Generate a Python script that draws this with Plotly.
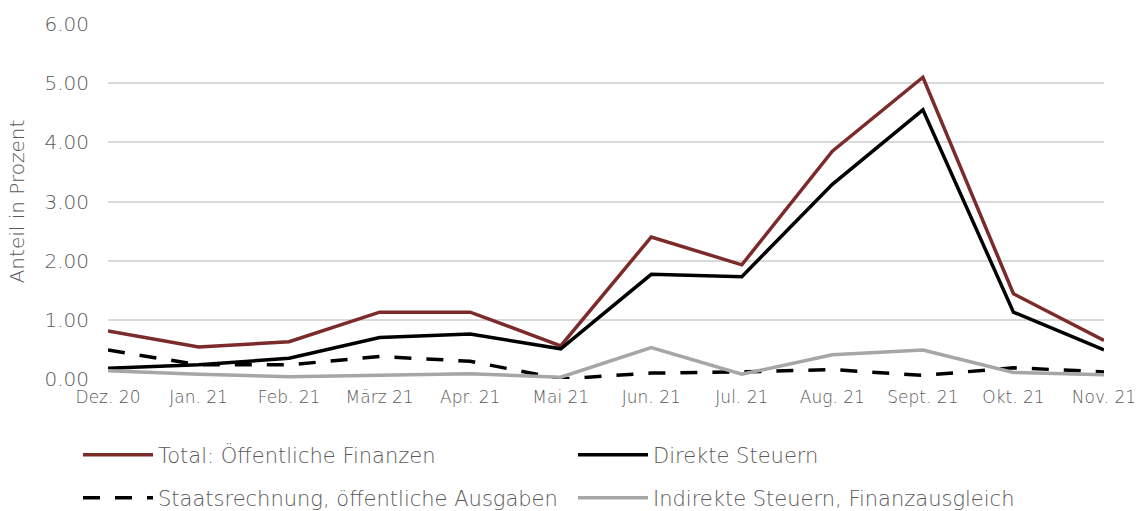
import plotly.graph_objects as go

months = ["Dez. 20", "Jan. 21", "Feb. 21", "März 21", "Apr. 21", "Mai 21",
          "Jun. 21", "Jul. 21", "Aug. 21", "Sept. 21", "Okt. 21", "Nov. 21"]
total = [0.81, 0.54, 0.63, 1.13, 1.13, 0.56, 2.40, 1.93, 3.85, 5.10, 1.44, 0.65]
direkte = [0.18, 0.24, 0.35, 0.70, 0.76, 0.51, 1.77, 1.73, 3.29, 4.55, 1.13, 0.49]
staat = [0.49, 0.24, 0.24, 0.38, 0.30, 0.00, 0.10, 0.12, 0.16, 0.06, 0.19, 0.12]
indirekte = [0.14, 0.08, 0.04, 0.07, 0.09, 0.03, 0.53, 0.08, 0.41, 0.49, 0.11, 0.07]

names = ["Total: Öffentliche Finanzen", "Direkte Steuern",
         "Staatsrechnung, öffentliche Ausgaben", "Indirekte Steuern, Finanzausgleich"]
series = [total, direkte, staat, indirekte]
colors = ["#7B2B29", "#000000", "#000000", "#A6A6A6"]
dashes = ["solid", "solid", "17px,15px", "solid"]
legends = ["legend", "legend", "legend2", "legend2"]

FONT = "DejaVu Sans"
W = 200
TXT = "#595959"

fig = go.Figure()
for n, s, c, d, lg in zip(names, series, colors, dashes, legends):
    fig.add_trace(go.Scatter(x=months, y=s, mode="lines", name=n,
                             line=dict(color=c, width=3.5, dash=d),
                             legend=lg))

legend_common = dict(orientation="h", xref="container", yref="container",
                     xanchor="left", yanchor="middle",
                     font=dict(family=FONT, size=21, color=TXT, weight=W),
                     itemwidth=70, entrywidth=410, entrywidthmode="pixels",
                     bgcolor="rgba(0,0,0,0)", itemclick=False)

fig.update_layout(
    width=1137, height=511,
    margin=dict(l=108, r=33, t=24, b=132, autoexpand=False),
    paper_bgcolor="white", plot_bgcolor="white",
    font=dict(family=FONT, color=TXT, weight=W),
    showlegend=True,
    legend=dict(**legend_common, x=78/1137, y=1 - 455/511),
    legend2=dict(**legend_common, x=78/1137, y=1 - 498/511),
    xaxis=dict(type="category", range=[0, 11], showgrid=False, zeroline=False,
               showline=False, ticks="", automargin=False, ticklabelstandoff=6,
               tickfont=dict(family=FONT, size=17, color=TXT, weight=W)),
    yaxis=dict(range=[0, 6], dtick=1, tickformat=".2f", showgrid=True,
               gridcolor="#D9D9D9", gridwidth=2, zeroline=False, showline=False,
               ticks="", automargin=False, ticklabelstandoff=18,
               tickfont=dict(family=FONT, size=20, color=TXT, weight=W),
               title=dict(text="Anteil in Prozent",
                          font=dict(family=FONT, size=20, color=TXT, weight=W),
                          standoff=14)),
)

fig.write_html("out.html", config={"displayModeBar": False},
               post_script="document.body.style.margin='0';")
